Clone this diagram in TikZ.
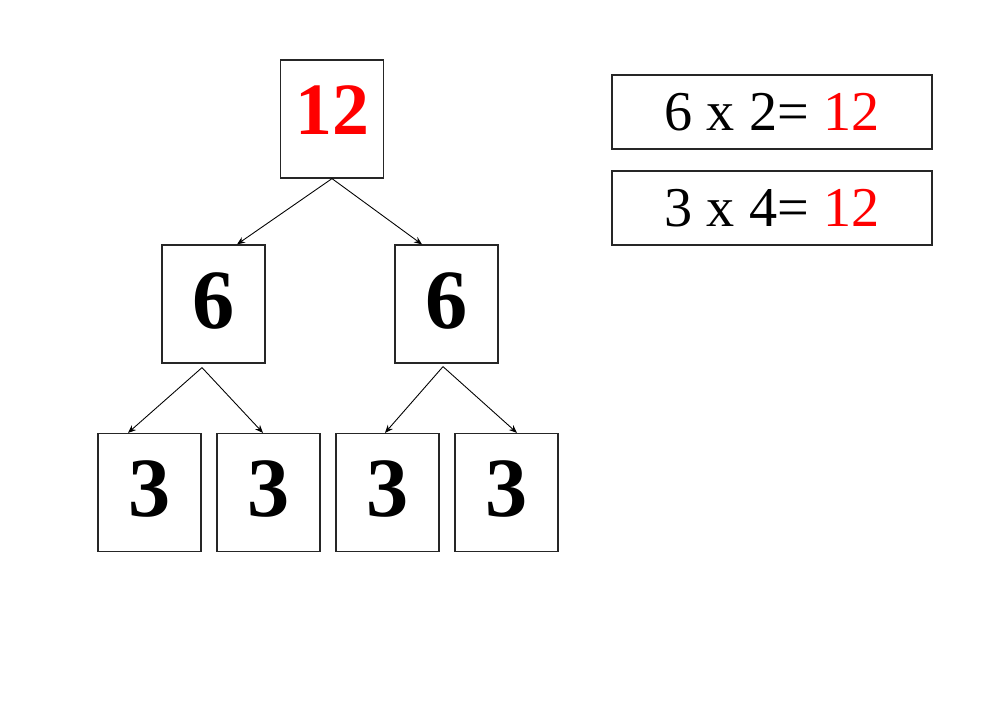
\documentclass[tikz,border=0pt]{standalone}
\usepackage{fontspec}
\setmainfont{Liberation Serif}
\usepackage{xcolor}
\usetikzlibrary{arrows.meta}
\definecolor{numred}{RGB}{255,0,0}
\tikzset{
  treebox/.style={draw=black!85, line width=0.7pt, minimum width=2.06cm, minimum height=2.36cm,
    inner sep=0pt, font=\fontsize{48}{50}\selectfont\bfseries, text depth=0.15cm},
  eqbox/.style={draw=black!85, line width=0.7pt, minimum width=6.4cm, minimum height=1.48cm,
    inner sep=0pt, font=\fontsize{32}{36}\selectfont},
  branch/.style={-{Stealth[length=1.6mm,width=1.3mm]}, line width=0.5pt}
}

\begin{document}
\begin{tikzpicture}[x=0.02cm, y=-0.02cm]
        \useasboundingbox (0,0) rectangle (1000,707);
        % Draw the factor tree
        \node[treebox, text=numred, font=\fontsize{42}{44}\selectfont\bfseries, text depth=0.36cm] (twelve) at (332,119) {12};
        \node[treebox] (sixL) at (213.5,304) {6};
        \node[treebox] (sixR) at (446.5,304) {6};
        \node[treebox] (threeA) at (149.5,492.5) {3};
        \node[treebox] (threeB) at (268.5,492.5) {3};
        \node[treebox] (threeC) at (387.5,492.5) {3};
        \node[treebox] (threeD) at (506.5,492.5) {3};
        % Draw the branches
        \draw[branch] (twelve.south) -- ([xshift=0.47cm]sixL.north);
        \draw[branch] (twelve.south) -- ([xshift=-0.49cm]sixR.north);
        \draw[branch] ([xshift=-0.23cm,yshift=-0.08cm]sixL.south) -- ([xshift=-0.43cm]threeA.north);
        \draw[branch] ([xshift=-0.23cm,yshift=-0.08cm]sixL.south) -- ([xshift=-0.11cm]threeB.north);
        \draw[branch] ([xshift=-0.07cm,yshift=-0.06cm]sixR.south) -- ([xshift=-0.05cm]threeC.north);
        \draw[branch] ([xshift=-0.07cm,yshift=-0.06cm]sixR.south) -- ([xshift=0.21cm]threeD.north);
        % Draw the products
        \node[eqbox] (prodA) at (772,112) {6 x 2= \textcolor{numred}{12}};
        \node[eqbox] (prodB) at (772,208) {3 x 4= \textcolor{numred}{12}};
    \end{tikzpicture}
\end{document}
